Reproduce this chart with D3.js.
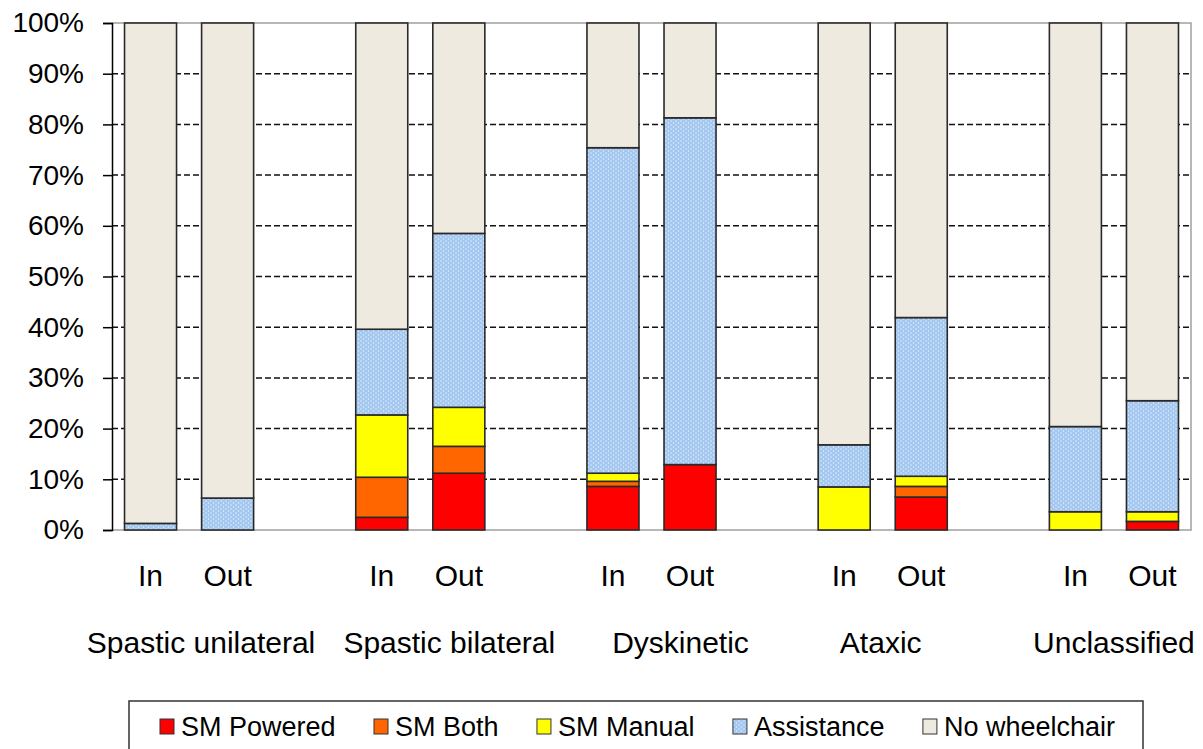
<!DOCTYPE html>
<html>
<head>
<meta charset="utf-8">
<script src="https://cdn.jsdelivr.net/npm/d3@7"></script>
<style>
  body { margin: 0; background: #fff; }
  text { font-family: "Liberation Sans", Arial, sans-serif; fill: #000; }
</style>
</head>
<body>
<div id="chart-area"></div>
<script>
// categories
const groups = ["Spastic unilateral", "Spastic bilateral", "Dyskinetic", "Ataxic", "Unclassified"]
const places = ["In", "Out"]
const seriesNames = ["SM Powered", "SM Both", "SM Manual", "Assistance", "No wheelchair"]
const yTicks = [0, 10, 20, 30, 40, 50, 60, 70, 80, 90, 100]

// values in %, one per bar: SU In, SU Out, SB In, SB Out, Dy In, Dy Out, At In, At Out, Un In, Un Out
const smPowered   = [0,    0,    2.5,  11.2, 8.6,  12.9, 0,    6.5,  0,    1.7]
const smBoth      = [0,    0,    7.9,  5.3,  1.0,  0,    0,    2.1,  0,    0]
const smManual    = [0,    0,    12.3, 7.7,  1.6,  0,    8.5,  2.0,  3.6,  1.9]
const assistance  = [1.3,  6.3,  16.9, 34.3, 64.2, 68.4, 8.3,  31.3, 16.8, 21.9]
const noWheel     = [98.7, 93.7, 60.4, 41.5, 24.6, 18.7, 83.2, 58.1, 79.6, 74.5]

const colors = ["#ff0000", "#ff6600", "#ffff00", "url(#dots)", "#eeeae0"]

// group label nudges (the labels in the picture are not centred on the bars)
const labelNudge = [12, 29, 29, -2, 0]

const W = 1203, H = 749
const PLOT = { LEFT: 112, RIGHT: 1191, TOP: 23, BOTTOM: 530 }
const slot = (PLOT.RIGHT - PLOT.LEFT) / 14

const svg = d3.select("#chart-area").append("svg")
    .attr("width", W)
    .attr("height", H)

const defs = svg.append("defs")
const pat = defs.append("pattern")
    .attr("id", "dots")
    .attr("patternUnits", "userSpaceOnUse")
    .attr("width", 5).attr("height", 4)
pat.append("rect").attr("width", 5).attr("height", 4).attr("fill", "#a3c7ef")
pat.append("circle").attr("cx", 1).attr("cy", 1).attr("r", 0.7).attr("fill", "#eaf3ff")
pat.append("circle").attr("cx", 3.5).attr("cy", 3).attr("r", 0.7).attr("fill", "#eaf3ff")

// rows for the stack
const rows = []
groups.forEach((g, gi) => {
    places.forEach((p, pi) => {
        const i = gi * 2 + pi
        rows.push({
            group: g, place: p,
            "SM Powered": smPowered[i],
            "SM Both": smBoth[i],
            "SM Manual": smManual[i],
            "Assistance": assistance[i],
            "No wheelchair": noWheel[i]
        })
    })
})

const x0 = d3.scaleBand()
    .domain(groups)
    .range([PLOT.LEFT, PLOT.LEFT + 15 * slot])
    .padding(0)

const x1 = d3.scaleBand()
    .domain(places)
    .range([0, 2 * slot])
    .paddingInner(0.325)
    .paddingOuter(0.1625)

const y = d3.scaleLinear()
    .domain([0, 100])
    .range([PLOT.BOTTOM, PLOT.TOP])

// gridlines
svg.append("g").selectAll("line")
    .data(yTicks.filter(t => t > 0 && t < 100))
    .enter().append("line")
    .attr("x1", PLOT.LEFT).attr("x2", PLOT.RIGHT)
    .attr("y1", d => y(d)).attr("y2", d => y(d))
    .attr("stroke", "#111")
    .attr("stroke-width", 1.5)
    .attr("stroke-dasharray", "6,3")

// frame (top, right, bottom)
svg.append("path")
    .attr("d", `M${PLOT.LEFT},${PLOT.TOP}H${PLOT.RIGHT}V${PLOT.BOTTOM}H${PLOT.LEFT}`)
    .attr("fill", "none")
    .attr("stroke", "#a0a0a0")
    .attr("stroke-width", 1.5)

// bars
const stacked = d3.stack().keys(seriesNames)(rows)

const barG = svg.append("g")
stacked.forEach((layer, li) => {
    barG.append("g").selectAll("rect")
        .data(layer.filter(d => d[1] - d[0] > 0))
        .enter().append("rect")
        .attr("x", d => x0(d.data.group) + x1(d.data.place))
        .attr("width", x1.bandwidth())
        .attr("y", d => y(d[1]))
        .attr("height", d => y(d[0]) - y(d[1]))
        .attr("fill", colors[li])
        .attr("stroke", "#2a2a2a")
        .attr("stroke-width", 1.6)
})

// y axis
const yAxis = d3.axisLeft(y)
    .tickValues(yTicks)
    .tickFormat(d => d + "%")
    .tickSize(9)
    .tickPadding(19)
const yg = svg.append("g")
    .attr("transform", `translate(${PLOT.LEFT},0)`)
    .call(yAxis)
yg.select(".domain").attr("stroke", "#000").attr("stroke-width", 1.5)
yg.selectAll(".tick line").attr("stroke", "#000").attr("stroke-width", 1.5)
yg.selectAll(".tick text")
    .attr("font-size", 28)
    .attr("font-family", "Liberation Sans, Arial, sans-serif")
    .attr("fill", "#000")

// In / Out labels
svg.append("g").selectAll("text")
    .data(rows)
    .enter().append("text")
    .attr("x", d => x0(d.group) + x1(d.place) + x1.bandwidth() / 2)
    .attr("y", 586)
    .attr("text-anchor", "middle")
    .attr("font-size", 30)
    .text(d => d.place)

// group labels
svg.append("g").selectAll("text")
    .data(groups)
    .enter().append("text")
    .attr("x", (d, i) => x0(d) + slot + labelNudge[i])
    .attr("y", 653)
    .attr("text-anchor", "middle")
    .attr("font-size", 30)
    .text(d => d)

// legend
const legend = svg.append("g")
legend.append("rect")
    .attr("x", 129).attr("y", 701)
    .attr("width", 1143 - 129).attr("height", 70)
    .attr("fill", "#fff")
    .attr("stroke", "#333")
    .attr("stroke-width", 1.5)

const LEG_START = 160, LEG_END = 1115, TXT_OFF = 21
const items = seriesNames.map((name, i) => {
    const item = legend.append("g")
    item.append("rect")
        .attr("x", 0).attr("y", 719)
        .attr("width", 14).attr("height", 15)
        .attr("fill", colors[i])
        .attr("stroke", "#333")
        .attr("stroke-width", 1)
    const t = item.append("text")
        .attr("x", TXT_OFF).attr("y", 736)
        .attr("font-size", 27)
        .text(name)
    return { item, w: TXT_OFF + t.node().getComputedTextLength() }
})
const gap = (LEG_END - LEG_START - d3.sum(items, d => d.w)) / (items.length - 1)
let lx = LEG_START
items.forEach(d => {
    d.item.attr("transform", `translate(${lx},0)`)
    lx += d.w + gap
})
</script>
</body>
</html>
